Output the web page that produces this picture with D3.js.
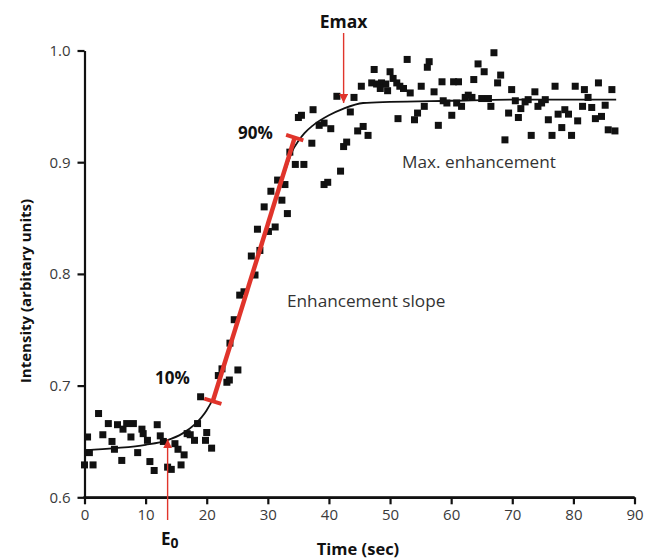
<!DOCTYPE html>
<html>
<head>
<meta charset="utf-8">
<script src="https://cdn.jsdelivr.net/npm/d3@7"></script>
<style>
  body { margin: 0; background: #fff; }
  svg text { font-family: "Open Sans", sans-serif; }
</style>
</head>
<body>
<svg id="chart" width="646" height="559"></svg>
<script>
// measured points: time (s) and intensity
var times = [
  0, 1.4, 0.8, 0.5, 2.3, 3.0, 3.9, 4.5, 4.9, 5.4, 6.1, 6.3, 6.9, 8.0, 7.6, 8.7, 9.4, 9.6, 10.3, 10.7,
  11.4, 11.9, 12.4, 12.9, 13.6, 14.2, 14.8, 15.3, 15.8, 16.3, 16.8, 17.3, 18.0, 18.5, 20.0, 19.8, 20.8, 19.0,
  21.9, 22.5, 23.3, 23.7, 25.1, 23.8, 24.5, 25.4, 26.1, 27.9, 27.3, 28.7, 28.3, 30.1, 31.2, 29.4, 33.2, 32.3,
  30.5, 32.8, 31.6, 33.6, 34.5, 35.9, 35.0, 35.5, 37.4, 37.2, 38.4, 39.2, 40.3, 41.3, 41.9, 39.2, 39.8, 42.4,
  42.9, 43.5, 44.1, 45.6, 44.7, 46.4,
  45.3, 47.0, 47.8, 48.6, 49.3, 48.4, 49.6, 47.4, 50.0, 50.5, 51.1, 51.6, 52.2, 53.3, 52.8, 56.4, 56.1, 55.1,
  57.2, 58.5, 60.4, 51.3, 54.0, 54.5, 55.6, 57.9, 58.7, 59.3, 60.1, 60.9, 61.2, 63.7, 64.4, 65.4, 67.0, 68.1,
  67.6, 69.9, 73.7, 77.0, 80.3, 81.8, 84.1, 86.3, 61.7, 62.3, 62.8, 63.4, 65.0, 66.1, 66.5, 70.5, 71.4, 72.1,
  72.6, 74.2, 74.8, 75.4, 69.4, 71.0, 75.9, 77.5, 78.6, 79.2, 80.7, 81.5, 82.4, 83.0, 83.6, 84.6, 85.2, 68.8,
  73.1, 76.5, 78.1, 79.7, 85.7, 86.8
];
var intensities = [
  0.629, 0.629, 0.640, 0.654, 0.675, 0.656, 0.666, 0.650, 0.643, 0.665, 0.633, 0.661, 0.666, 0.666, 0.654, 0.640, 0.661, 0.657, 0.651, 0.632,
  0.624, 0.665, 0.655, 0.650, 0.627, 0.625, 0.648, 0.643, 0.629, 0.638, 0.657, 0.656, 0.651, 0.666, 0.658, 0.651, 0.644, 0.690,
  0.709, 0.715, 0.703, 0.705, 0.714, 0.738, 0.759, 0.781, 0.784, 0.799, 0.816, 0.821, 0.840, 0.838, 0.842, 0.860, 0.854, 0.866,
  0.874, 0.880, 0.884, 0.909, 0.898, 0.898, 0.940, 0.942, 0.947, 0.917, 0.933, 0.935, 0.930, 0.959, 0.892, 0.880, 0.882, 0.914,
  0.918, 0.945, 0.958, 0.932, 0.928, 0.924,
  0.968, 0.971, 0.970, 0.971, 0.970, 0.966, 0.964, 0.983, 0.981, 0.975, 0.971, 0.968, 0.966, 0.962, 0.992, 0.990, 0.985, 0.968,
  0.963, 0.972, 0.972, 0.939, 0.938, 0.944, 0.950, 0.933, 0.955, 0.953, 0.942, 0.953, 0.972, 0.974, 0.988, 0.981, 0.998, 0.978,
  0.971, 0.965, 0.963, 0.968, 0.968, 0.965, 0.971, 0.965, 0.950, 0.958, 0.960, 0.958, 0.957, 0.957, 0.950, 0.955, 0.948, 0.954,
  0.956, 0.950, 0.953, 0.956, 0.944, 0.940, 0.938, 0.943, 0.947, 0.943, 0.937, 0.950, 0.958, 0.949, 0.939, 0.941, 0.951, 0.920,
  0.924, 0.924, 0.931, 0.924, 0.929, 0.928
];

// fitted curve
var fitTimes  = [0, 5, 10, 13.5, 16, 18, 20, 21, 22, 24, 26, 28, 30, 32, 33, 34, 35, 36, 37.4, 40, 42.4, 45.6, 50, 60, 70, 80, 87];
var fitValues = [0.642, 0.644, 0.647, 0.651, 0.657, 0.665, 0.678, 0.688, 0.703, 0.739, 0.774, 0.809, 0.844, 0.879, 0.895, 0.910, 0.919, 0.926, 0.933, 0.942, 0.948, 0.953, 0.954, 0.955, 0.956, 0.956, 0.956];

// enhancement slope segment (10% -> 90%)
var slopeTimes  = [21.0, 34.4];
var slopeValues = [0.686, 0.922];

var xTicks = [0, 10, 20, 30, 40, 50, 60, 70, 80, 90];
var yTicks = [0.6, 0.7, 0.8, 0.9, 1.0];

var red = "#e0342b";
var svg = d3.select("#chart");

var x = d3.scaleLinear().domain([0, 90]).range([84.5, 634.5]);
var y = d3.scaleLinear().domain([0.6, 1.0]).range([497.3, 50.5]);

// axes
var xAxis = svg.append("g")
  .attr("transform", "translate(0," + y(0.6) + ")")
  .call(d3.axisBottom(x).tickValues(xTicks).tickSize(7).tickSizeOuter(0).tickPadding(5).tickFormat(d3.format("d")));
var yAxis = svg.append("g")
  .attr("transform", "translate(" + x(0) + ",0)")
  .call(d3.axisLeft(y).tickValues(yTicks).tickSize(7).tickSizeOuter(0).tickPadding(7).tickFormat(d3.format(".1f")));

[xAxis, yAxis].forEach(function (g) {
  g.select(".domain").attr("stroke", "#111").attr("stroke-width", 2.2);
  g.selectAll(".tick line").attr("stroke", "#111").attr("stroke-width", 2.2);
  g.selectAll(".tick text").attr("fill", "#3a3a3a").style("font-size", "15px");
});
// extend the axis lines to meet at the corner
svg.append("line").attr("x1", x(0) - 1.1).attr("x2", x(90)).attr("y1", y(0.6)).attr("y2", y(0.6))
  .attr("stroke", "#111").attr("stroke-width", 2.2);

svg.append("text")
  .attr("x", 358).attr("y", 555)
  .attr("text-anchor", "middle")
  .style("font-size", "16.5px").style("font-weight", "bold").attr("fill", "#111")
  .text("Time (sec)");
svg.append("text")
  .attr("transform", "translate(31,291) rotate(-90)")
  .attr("text-anchor", "middle")
  .style("font-size", "15px").style("font-weight", "bold").attr("fill", "#111")
  .text("Intensity (arbitary units)");

// scatter
var pts = times.map(function (t, i) { return [t, intensities[i]]; });
svg.append("g").selectAll("rect").data(pts).join("rect")
  .attr("x", function (d) { return x(d[0]) - 3.5; })
  .attr("y", function (d) { return y(d[1]) - 3.5; })
  .attr("width", 7).attr("height", 7)
  .attr("fill", "#111");

// fitted curve
var fit = fitTimes.map(function (t, i) { return [t, fitValues[i]]; });
svg.append("path")
  .datum(fit)
  .attr("fill", "none").attr("stroke", "#111").attr("stroke-width", 1.8)
  .attr("d", d3.line().x(function (d) { return x(d[0]); }).y(function (d) { return y(d[1]); }).curve(d3.curveMonotoneX));

// red slope line with end caps
var p0 = [x(slopeTimes[0]), y(slopeValues[0])];
var p1 = [x(slopeTimes[1]), y(slopeValues[1])];
svg.append("line")
  .attr("x1", p0[0]).attr("y1", p0[1]).attr("x2", p1[0]).attr("y2", p1[1])
  .attr("stroke", red).attr("stroke-width", 4.5);
var dx = p1[0] - p0[0], dy = p1[1] - p0[1], len = Math.sqrt(dx * dx + dy * dy);
var nx = -dy / len * 9, ny = dx / len * 9;
[p0, p1].forEach(function (p) {
  svg.append("line")
    .attr("x1", p[0] - nx).attr("y1", p[1] - ny).attr("x2", p[0] + nx).attr("y2", p[1] + ny)
    .attr("stroke", red).attr("stroke-width", 4);
});

// arrows
var defs = svg.append("defs");
defs.append("marker").attr("id", "arr")
  .attr("viewBox", "0 0 10 10").attr("refX", 10).attr("refY", 5)
  .attr("markerUnits", "userSpaceOnUse").attr("markerWidth", 9).attr("markerHeight", 9)
  .attr("orient", "auto")
  .append("path").attr("d", "M0,0 L10,5 L0,10 Z").attr("fill", red);

svg.append("line")
  .attr("x1", x(42.4)).attr("x2", x(42.4)).attr("y1", 33).attr("y2", y(0.953))
  .attr("stroke", red).attr("stroke-width", 1.4).attr("marker-end", "url(#arr)");
svg.append("line")
  .attr("x1", x(13.6)).attr("x2", x(13.6)).attr("y1", 520).attr("y2", y(0.652))
  .attr("stroke", red).attr("stroke-width", 1.4).attr("marker-end", "url(#arr)");

// labels
svg.append("text").attr("x", x(42.4)).attr("y", 28).attr("text-anchor", "middle")
  .style("font-size", "17.5px").style("font-weight", "bold").attr("fill", "#111").text("Emax");
var e0 = svg.append("text").attr("x", 161).attr("y", 545)
  .style("font-size", "17px").style("font-weight", "bold").attr("fill", "#111");
e0.append("tspan").text("E");
e0.append("tspan").attr("dy", 3).style("font-size", "14px").text("0");

svg.append("text").attr("x", 155).attr("y", 384)
  .style("font-size", "17px").style("font-weight", "bold").attr("fill", "#111").text("10%");
svg.append("text").attr("x", 238).attr("y", 139)
  .style("font-size", "17px").style("font-weight", "bold").attr("fill", "#111").text("90%");
svg.append("text").attr("x", 287).attr("y", 307)
  .style("font-size", "17.2px").attr("fill", "#333").text("Enhancement slope");
svg.append("text").attr("x", 402).attr("y", 168)
  .style("font-size", "17.2px").attr("fill", "#333").text("Max. enhancement");
</script>
</body>
</html>
